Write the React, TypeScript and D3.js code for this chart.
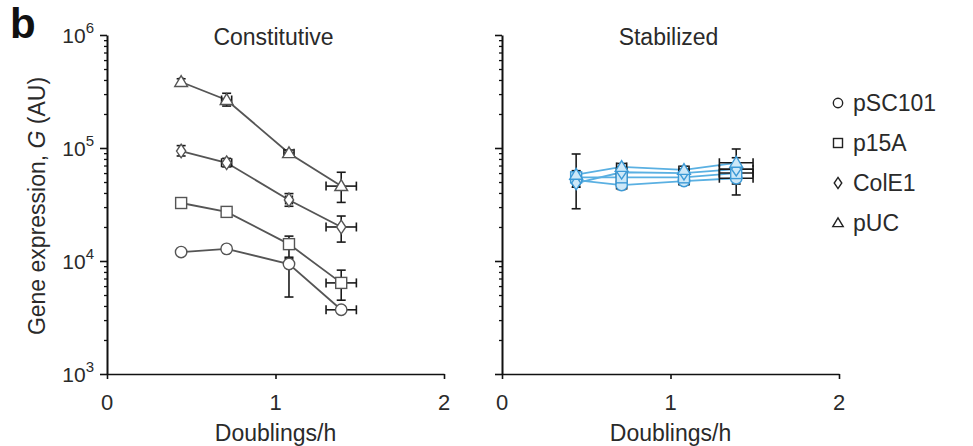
import * as d3 from 'd3'
import React, { useEffect, useRef } from 'react'

// growth rates (doublings per hour) for the four measurements
const rates = [0.44, 0.71, 1.08, 1.39]
const plasmids = ['pSC101', 'p15A', 'ColE1', 'pUC']
const shapes = ['circle', 'square', 'diamond', 'triangle']
const yTicks = [1e3, 1e4, 1e5, 1e6]
const xTicks = [0, 1, 2]

// Constitutive panel
const constValues = [
  [1.2e4, 1.28e4, 9.4e3, 3.7e3],
  [3.26e4, 2.72e4, 1.41e4, 6.4e3],
  [9.4e4, 7.4e4, 3.47e4, 2.0e4],
  [3.84e5, 2.66e5, 9.0e4, 4.6e4]
]
const constLow = [
  [1.13e4, 1.2e4, 4.8e3, 3.45e3],
  [3.1e4, 2.55e4, 1.08e4, 4.5e3],
  [8.5e4, 6.8e4, 3.05e4, 1.47e4],
  [3.6e5, 2.35e5, 8.4e4, 3.3e4]
]
const constHigh = [
  [1.27e4, 1.37e4, 1.05e4, 3.95e3],
  [3.4e4, 2.9e4, 1.66e4, 8.3e3],
  [1.05e5, 8.1e4, 3.95e4, 2.5e4],
  [4.1e5, 3.05e5, 9.6e4, 6.1e4]
]
const constXErr = [
  [0.01, 0.02, 0.02, 0.09],
  [0.01, 0.02, 0.02, 0.09],
  [0.01, 0.03, 0.02, 0.09],
  [0.01, 0.03, 0.03, 0.09]
]

// Stabilized panel
const stabValues = [
  [5.2e4, 4.7e4, 5.1e4, 5.4e4],
  [5.5e4, 5.5e4, 5.5e4, 6.0e4],
  [4.9e4, 6.1e4, 6.0e4, 6.5e4],
  [5.8e4, 6.8e4, 6.4e4, 7.4e4]
]
const stabLow = [
  [2.9e4, 4.3e4, 4.7e4, 4.8e4],
  [5.0e4, 5.0e4, 5.1e4, 5.4e4],
  [4.5e4, 5.6e4, 5.5e4, 3.84e4],
  [5.3e4, 6.2e4, 5.9e4, 6.6e4]
]
const stabHigh = [
  [8.85e4, 5.2e4, 5.5e4, 6.1e4],
  [6.0e4, 6.0e4, 6.0e4, 6.7e4],
  [5.4e4, 6.6e4, 6.5e4, 9.8e4],
  [6.3e4, 7.3e4, 6.9e4, 8.2e4]
]
const stabXErr = [
  [0.02, 0.03, 0.03, 0.1],
  [0.02, 0.03, 0.03, 0.1],
  [0.02, 0.03, 0.03, 0.1],
  [0.02, 0.03, 0.03, 0.1]
]

const FONT = '"Liberation Sans", Arial, Helvetica, sans-serif'
const TEXT = '#2a2a2a'

const App = () => {
  const svgRef = useRef(null)
  const width = 973
  const height = 446

  useEffect(() => {
    if (!svgRef.current) return
    d3.select(svgRef.current).selectAll('*').remove()

    const svg = d3.select(svgRef.current)
      .attr('width', width)
      .attr('height', height)

    const y = d3.scaleLog().domain([1e3, 1e6]).range([374, 35])

    const drawMarker = (g, shape, cx, cy, stroke, fill, s) => {
      if (shape === 'circle') {
        g.append('circle').attr('cx', cx).attr('cy', cy).attr('r', s * 0.52)
          .attr('fill', fill).attr('stroke', stroke).attr('stroke-width', 1.4)
      } else if (shape === 'square') {
        g.append('rect').attr('x', cx - s / 2).attr('y', cy - s / 2)
          .attr('width', s).attr('height', s)
          .attr('fill', fill).attr('stroke', stroke).attr('stroke-width', 1.4)
      } else if (shape === 'diamond') {
        const w = s * 0.42
        const h = s * 0.62
        g.append('path')
          .attr('d', `M${cx},${cy - h}L${cx + w},${cy}L${cx},${cy + h}L${cx - w},${cy}Z`)
          .attr('fill', fill).attr('stroke', stroke).attr('stroke-width', 1.4)
      } else {
        const w = s * 0.58
        g.append('path')
          .attr('d', `M${cx},${cy - w}L${cx + w},${cy + w * 0.7}L${cx - w},${cy + w * 0.7}Z`)
          .attr('fill', fill).attr('stroke', stroke).attr('stroke-width', 1.4)
      }
    }

    const drawPanel = (x0, title, values, low, high, xErr, lineColor, markerStroke, markerFill) => {
      const x = d3.scaleLinear().domain([0, 2]).range([x0, x0 + 337])
      const g = svg.append('g')

      // y axis: major and minor ticks
      const minor = []
      for (let e = 3; e < 6; e++) {
        for (let m = 2; m < 10; m++) minor.push(m * Math.pow(10, e))
      }
      g.append('g')
        .attr('transform', `translate(${x0},0)`)
        .call(d3.axisLeft(y).tickValues(minor).tickSize(3).tickSizeOuter(0).tickFormat(() => ''))
        .call((a) => a.select('.domain').remove())
        .call((a) => a.selectAll('.tick line').attr('stroke', '#111').attr('stroke-width', 1.3))
      g.append('g')
        .attr('transform', `translate(${x0},0)`)
        .call(d3.axisLeft(y).tickValues(yTicks).tickSize(7).tickSizeOuter(0).tickFormat(() => ''))
        .call((a) => a.select('.domain').attr('stroke', '#111').attr('stroke-width', 2))
        .call((a) => a.selectAll('.tick line').attr('stroke', '#111').attr('stroke-width', 1.6))

      // x axis
      g.append('g')
        .attr('transform', 'translate(0,374)')
        .call(d3.axisBottom(x).tickValues(xTicks).tickSize(5).tickSizeOuter(0).tickFormat(() => ''))
        .call((a) => a.select('.domain').attr('stroke', '#111').attr('stroke-width', 1.6))
        .call((a) => a.selectAll('.tick line').attr('stroke', '#111').attr('stroke-width', 1.6))

      xTicks.forEach((t) => {
        g.append('text')
          .attr('x', x(t)).attr('y', 410)
          .attr('text-anchor', 'middle')
          .style('font-family', FONT).style('font-size', '22px').style('fill', TEXT)
          .text(t)
      })

      g.append('text')
        .attr('x', x(1)).attr('y', 441)
        .attr('text-anchor', 'middle')
        .style('font-family', FONT).style('font-size', '23px').style('fill', TEXT)
        .text('Doublings/h')

      g.append('text')
        .attr('x', x(1) - 2).attr('y', 45)
        .attr('text-anchor', 'middle')
        .style('font-family', FONT).style('font-size', '23px').style('fill', TEXT)
        .text(title)

      // lines
      const line = d3.line().x((d) => x(d[0])).y((d) => y(d[1]))
      values.forEach((vals) => {
        g.append('path')
          .datum(rates.map((r, i) => [r, vals[i]]))
          .attr('fill', 'none')
          .attr('stroke', lineColor)
          .attr('stroke-width', 1.8)
          .attr('d', line)
      })

      // error bars
      const cap = 4.5
      values.forEach((vals, s) => {
        rates.forEach((r, i) => {
          const cx = x(r)
          const yl = y(low[s][i])
          const yh = y(high[s][i])
          const eb = g.append('g').attr('stroke', '#1a1a1a').attr('stroke-width', 1.6).attr('fill', 'none')
          eb.append('line').attr('x1', cx).attr('x2', cx).attr('y1', yl).attr('y2', yh)
          eb.append('line').attr('x1', cx - cap).attr('x2', cx + cap).attr('y1', yl).attr('y2', yl)
          eb.append('line').attr('x1', cx - cap).attr('x2', cx + cap).attr('y1', yh).attr('y2', yh)
          const xl = x(r - xErr[s][i])
          const xh = x(r + xErr[s][i])
          const cy = y(vals[i])
          eb.append('line').attr('x1', xl).attr('x2', xh).attr('y1', cy).attr('y2', cy)
          eb.append('line').attr('x1', xl).attr('x2', xl).attr('y1', cy - cap).attr('y2', cy + cap)
          eb.append('line').attr('x1', xh).attr('x2', xh).attr('y1', cy - cap).attr('y2', cy + cap)
        })
      })

      // markers
      values.forEach((vals, s) => {
        rates.forEach((r, i) => {
          drawMarker(g, shapes[s], x(r), y(vals[i]), markerStroke, markerFill, 11)
        })
      })
    }

    drawPanel(107, 'Constitutive', constValues, constLow, constHigh, constXErr, '#555', '#555', '#fff')
    drawPanel(502, 'Stabilized', stabValues, stabLow, stabHigh, stabXErr, '#5ab0e2', '#3d9ad6', '#cde8f8')

    // y tick labels (left panel only)
    yTicks.forEach((t) => {
      const e = Math.round(Math.log10(t))
      const txt = svg.append('text')
        .attr('x', 94).attr('y', y(t) + 8)
        .attr('text-anchor', 'end')
        .style('font-family', FONT).style('font-size', '21px').style('fill', TEXT)
      txt.append('tspan').text('10')
      txt.append('tspan').attr('dy', -10).style('font-size', '15px').text(e)
    })

    // y axis title
    const yt = svg.append('text')
      .attr('transform', 'translate(45,206) rotate(-90)')
      .attr('text-anchor', 'middle')
      .style('font-family', FONT).style('font-size', '23px').style('fill', TEXT)
    yt.append('tspan').text('Gene expression, ')
    yt.append('tspan').style('font-style', 'italic').text('G')
    yt.append('tspan').text(' (AU)')

    // panel letter
    svg.append('text')
      .attr('x', 10).attr('y', 38)
      .style('font-family', FONT).style('font-size', '42px').style('font-weight', 'bold')
      .style('fill', '#111')
      .text('b')

    // legend
    plasmids.forEach((p, i) => {
      const ly = 111 + i * 40
      drawMarker(svg, shapes[i], 838, ly - 8, '#222', '#fff', 9)
      svg.append('text')
        .attr('x', 853).attr('y', ly)
        .style('font-family', FONT).style('font-size', '23px').style('fill', TEXT)
        .text(p)
    })
  }, [])

  return (
    <div style={ { position: 'absolute', left: 0, top: 0, background: '#fff' } }>
      <svg ref={ svgRef } style={ { display: 'block' } }></svg>
    </div>
  )
}

export default App
